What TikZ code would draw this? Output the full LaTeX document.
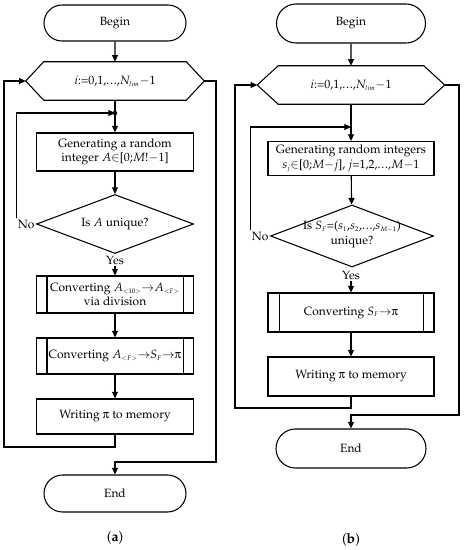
\documentclass[tikz,border=0pt]{standalone}
\usepackage[T1]{fontenc}
\usepackage{mathpazo}
\usepackage[Symbol]{upgreek}
\usetikzlibrary{shapes.geometric,shapes.misc,arrows.meta,calc}
\newcommand{\sbs}[1]{_{\scriptscriptstyle #1}}
\newcommand{\dts}{.\kern0.06em.\kern0.06em.}
\begin{document}
\begin{tikzpicture}[x=0.75pt,y=-0.75pt,
  every node/.style={font=\fontsize{9}{11}\selectfont},
  line/.style={line width=0.8pt},
  arr/.style={line, -{Triangle[length=5pt,width=4.5pt]}},
  term/.style 2 args={rounded rectangle, draw, line, minimum width=#1*0.75pt, minimum height=#2*0.75pt, inner sep=0pt},
  hexbox/.style={minimum width=#1*0.75pt, minimum height=38*0.75pt, inner sep=0pt},
  proc/.style 2 args={rectangle, draw, line, align=center, minimum width=#1*0.75pt, minimum height=#2*0.75pt, inner sep=0pt},
  dia/.style 2 args={diamond, draw, line, minimum width=#1*0.75pt, minimum height=#2*0.75pt, inner sep=0pt},
  lab/.style={inner sep=1pt},
  captext/.style={font=\fontsize{10.5}{12}\selectfont}
]
\useasboundingbox (0,0) rectangle (464,550);

% ---------------- (a) ----------------
\node[term={142}{36}] (beginA) at (115,23) {Begin};
\node[hexbox=142] (hexA) at (115,81) {$i$:=0,1,\dts,$N\sbs{lim}$$-$1};
\coordinate (hexAw) at ($(hexA.west)+(-18,0)$);
\coordinate (hexAe) at ($(hexA.east)+(18,0)$);
\draw[line] (hexA.north west) -- (hexA.north east) -- (hexAe) -- (hexA.south east) -- (hexA.south west) -- (hexAw) -- cycle;
\coordinate (jA) at (115,113);
\node[proc={157}{38}] (genA) at (115,152) {Generating a random\\integer $A$$\in$[0;$M$!$-$1]};
\node[dia={157}{59}] (diaA) at (115,224) {};
\node at (diaA) {Is $A$ unique?};
\node[lab, anchor=east] (noA) at (diaA.west) {No};
\node[lab] (yesA) at (115,260) {Yes};
\node[proc={157}{37}] (convA) at (115,294.5) {Converting $A\sbs{<10>}$$\rightarrow$$A\sbs{<F>}$\\via division};
\node[proc={157}{36}] (conv2A) at (115,356) {Converting $A\sbs{<F>}$$\rightarrow$$S\sbs{F}$$\rightarrow$$\uppi$};
\node[proc={157}{35}] (writeA) at (115,416.5) {Writing $\uppi$ to memory};
\node[term={142}{37}] (endA) at (115,493.5) {End};
\node[captext] (capA) at (115,538) {(\textbf{a})};
\coordinate (lA) at (4,447);
\coordinate (xA) at (216,462);

\foreach \n in {convA,conv2A}{
  \draw[line] ([xshift=8.25pt]\n.north west) -- ([xshift=8.25pt]\n.south west);
  \draw[line] ([xshift=-8.25pt]\n.north east) -- ([xshift=-8.25pt]\n.south east);
}
\draw[arr] (beginA) -- (hexA.north);
\draw[line] (hexA.south) -- (jA);
\fill (jA) circle (1.7pt);
\draw[arr] (jA) -- (genA);
\draw[arr] (genA) -- (diaA);
\draw[arr] (noA.north west) |- (jA);
\draw[arr] (yesA) -- (convA);
\draw[arr] (convA) -- (conv2A);
\draw[arr] (conv2A) -- (writeA);
\draw[arr] (writeA.south) |- (lA) |- (hexAw);
\draw[arr] (hexAe) -| (xA) -| (endA.north);

% ---------------- (b) ----------------
\node[term={149}{39}] (beginB) at (351,23.5) {Begin};
\node[hexbox=145] (hexB) at (351,85) {$i$:=0,1,\dts,$N\sbs{lim}$$-$1};
\coordinate (hexBw) at ($(hexB.west)+(-21,0)$);
\coordinate (hexBe) at ($(hexB.east)+(21,0)$);
\draw[line] (hexB.north west) -- (hexB.north east) -- (hexBe) -- (hexB.south east) -- (hexB.south west) -- (hexBw) -- cycle;
\coordinate (jB) at (351,127);
\node[proc={166}{34}] (genB) at (351,158.5) {Generating random integers\\$s\sbs{j}$$\in$[0;$M$$-$$j$], $j$=1,2,\dts,$M$$-$1};
\node[dia={163}{62}] (diaB) at (352,236) {};
\node[align=center] at ([yshift=1pt]diaB.center) {Is $S\sbs{F}$=($s\sbs{1}$,$s\sbs{2}$,\dts,$s\sbs{M-1}$)\\unique?};
\node[lab, anchor=east] (noB) at (diaB.west) {No};
\node[lab] (yesB) at (351,275) {Yes};
\node[proc={166}{39}] (convB) at (351,312.5) {Converting $S\sbs{F}$$\rightarrow$$\uppi$};
\node[proc={166}{39}] (writeB) at (351,376.5) {Writing $\uppi$ to memory};
\node[term={150}{39}] (endB) at (351,448.5) {End};
\node[captext] (capB) at (351,540) {(\textbf{b})};
\coordinate (lB) at (235,408);
\coordinate (xB) at (459,415);

\draw[line] ([xshift=9pt]convB.north west) -- ([xshift=9pt]convB.south west);
\draw[line] ([xshift=-8.25pt]convB.north east) -- ([xshift=-8.25pt]convB.south east);
\draw[arr] (beginB) -- (hexB.north);
\draw[arr] (hexB.south) -- (genB.north);
\draw[arr] (noB.north west) |- (jB);
\draw[arr] (genB) -- (diaB);
\draw[arr] (yesB) -- (convB);
\draw[arr] (convB) -- (writeB);
\draw[arr] (writeB.south) |- (lB) |- (hexBw);
\draw[arr] (hexBe) -| (xB) -| (endB.north);
\end{tikzpicture}
\end{document}
